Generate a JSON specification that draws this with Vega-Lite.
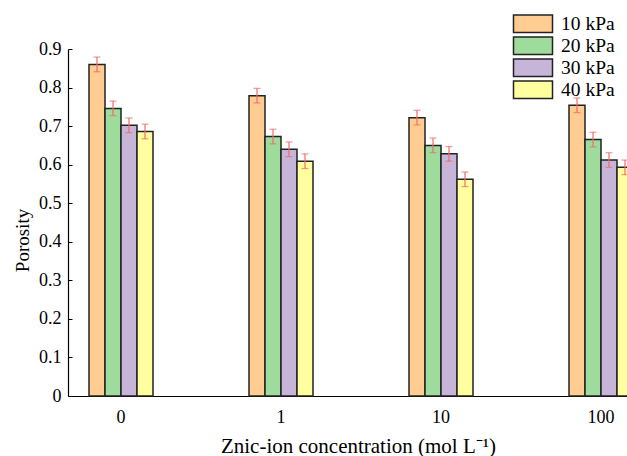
{
  "$schema": "https://vega.github.io/schema/vega-lite/v6.json",
  "width": 559,
  "height": 347,
  "autosize": {"type": "none"},
  "padding": {"left": 68, "top": 49, "right": 0, "bottom": 60},
  "config": {
    "font": "Liberation Serif",
    "view": {"stroke": null},
    "axis": {"grid": false, "domainColor": "#000", "tickColor": "#000", "labelColor": "#000", "titleColor": "#000", "labelFont": "Liberation Serif", "titleFont": "Liberation Serif", "titleFontWeight": "normal", "domainWidth": 1.2},
    "axisY": {"labelOverlap": false, "tickSize": -4, "labelPadding": 11, "labelFontSize": 18, "titleFontSize": 19, "titlePadding": 6},
    "legend": {"labelFont": "Liberation Serif", "labelColor": "#000"}
  },
  "data": {
    "values": [
      {"conc": "0", "pressure": "10 kPa", "porosity": 0.860, "lo": 0.841, "hi": 0.879},
      {"conc": "0", "pressure": "20 kPa", "porosity": 0.746, "lo": 0.727, "hi": 0.765},
      {"conc": "0", "pressure": "30 kPa", "porosity": 0.702, "lo": 0.683, "hi": 0.721},
      {"conc": "0", "pressure": "40 kPa", "porosity": 0.686, "lo": 0.667, "hi": 0.705},
      {"conc": "1", "pressure": "10 kPa", "porosity": 0.779, "lo": 0.760, "hi": 0.798},
      {"conc": "1", "pressure": "20 kPa", "porosity": 0.673, "lo": 0.654, "hi": 0.692},
      {"conc": "1", "pressure": "30 kPa", "porosity": 0.640, "lo": 0.621, "hi": 0.659},
      {"conc": "1", "pressure": "40 kPa", "porosity": 0.609, "lo": 0.590, "hi": 0.628},
      {"conc": "10", "pressure": "10 kPa", "porosity": 0.722, "lo": 0.703, "hi": 0.741},
      {"conc": "10", "pressure": "20 kPa", "porosity": 0.650, "lo": 0.631, "hi": 0.669},
      {"conc": "10", "pressure": "30 kPa", "porosity": 0.628, "lo": 0.609, "hi": 0.647},
      {"conc": "10", "pressure": "40 kPa", "porosity": 0.562, "lo": 0.543, "hi": 0.581},
      {"conc": "100", "pressure": "10 kPa", "porosity": 0.754, "lo": 0.735, "hi": 0.773},
      {"conc": "100", "pressure": "20 kPa", "porosity": 0.665, "lo": 0.646, "hi": 0.684},
      {"conc": "100", "pressure": "30 kPa", "porosity": 0.612, "lo": 0.593, "hi": 0.631},
      {"conc": "100", "pressure": "40 kPa", "porosity": 0.593, "lo": 0.574, "hi": 0.612}
    ]
  },
  "encoding": {
    "x": {
      "field": "conc", "type": "nominal", "sort": ["0", "1", "10", "100"],
      "scale": {"range": [0, 586], "paddingInner": 0.6, "paddingOuter": 0.13125},
      "axis": {"title": "Znic-ion concentration (mol L⁻¹)", "ticks": false, "labelAngle": 0, "labelFontSize": 18, "labelPadding": 12, "titleFontSize": 21, "titlePadding": 9, "titleX": 290}
    },
    "xOffset": {"field": "pressure", "type": "nominal", "sort": ["10 kPa", "20 kPa", "30 kPa", "40 kPa"], "scale": {"paddingInner": 0, "paddingOuter": 0}}
  },
  "layer": [
    {
      "mark": {"type": "bar", "stroke": "#222", "strokeWidth": 1.5},
      "encoding": {
        "y": {"field": "porosity", "type": "quantitative", "scale": {"domain": [0, 0.9]},
          "axis": {"title": "Porosity", "values": [0, 0.1, 0.2, 0.3, 0.4, 0.5, 0.6, 0.7, 0.8, 0.9], "format": "~g", "labelOverlap": false, "titleY": 191}},
        "fill": {"field": "pressure", "type": "nominal",
          "scale": {"domain": ["10 kPa", "20 kPa", "30 kPa", "40 kPa"], "range": ["#ffcc91", "#9edc9c", "#c6b5d9", "#ffff9f"]},
          "legend": {"title": null, "orient": "none", "legendX": 455.25, "legendY": -35, "symbolType": "M-3,-1.35H3V1.35H-3Z", "symbolSize": 169, "symbolStrokeColor": "#222", "symbolStrokeWidth": 1.5, "symbolOpacity": 1, "labelFontSize": 19.5, "labelOffset": 18.25, "rowPadding": -3.1, "padding": 0, "labelFont": "Liberation Serif", "labelColor": "#000"}}
      }
    },
    {
      "mark": {"type": "rule", "color": "#f26a6a", "strokeWidth": 1.2},
      "encoding": {"y": {"field": "lo", "type": "quantitative", "axis": {"title": "Porosity", "values": [0, 0.1, 0.2, 0.3, 0.4, 0.5, 0.6, 0.7, 0.8, 0.9], "format": "~g", "labelOverlap": false, "titleY": 191}}, "y2": {"field": "hi"}}
    },
    {
      "mark": {"type": "tick", "color": "#f26a6a", "size": 7, "thickness": 1.2},
      "encoding": {"y": {"field": "lo", "type": "quantitative", "axis": {"title": "Porosity", "values": [0, 0.1, 0.2, 0.3, 0.4, 0.5, 0.6, 0.7, 0.8, 0.9], "format": "~g", "labelOverlap": false, "titleY": 191}}}
    },
    {
      "mark": {"type": "tick", "color": "#f26a6a", "size": 7, "thickness": 1.2},
      "encoding": {"y": {"field": "hi", "type": "quantitative", "axis": {"title": "Porosity", "values": [0, 0.1, 0.2, 0.3, 0.4, 0.5, 0.6, 0.7, 0.8, 0.9], "format": "~g", "labelOverlap": false, "titleY": 191}}}
    }
  ]
}
